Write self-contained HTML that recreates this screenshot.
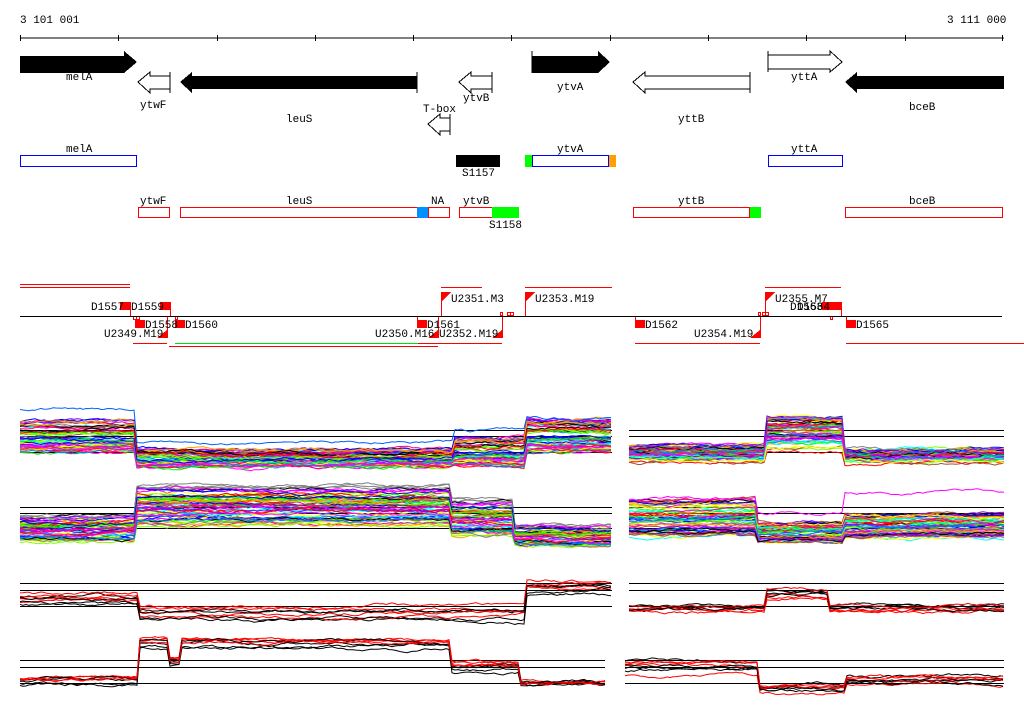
<!DOCTYPE html>
<html><head><meta charset="utf-8">
<style>
html,body{margin:0;padding:0;background:#fff;}
svg{display:block;}
text{font-family:"Liberation Mono","DejaVu Sans Mono",monospace;font-size:11px;fill:#000;}
</style></head>
<body>
<svg id="s" width="1024" height="714" viewBox="0 0 1024 714" xmlns="http://www.w3.org/2000/svg" shape-rendering="crispEdges">
<rect width="1024" height="714" fill="#fff"/>
<text x="20" y="23">3 101 001</text>
<text x="947" y="23">3 111 000</text>
<line x1="20" y1="38" x2="1004" y2="38" stroke="#000"/>
<g stroke="#000">
<line x1="20.5" y1="35" x2="20.5" y2="41"/><line x1="118.5" y1="35" x2="118.5" y2="41"/><line x1="217.5" y1="35" x2="217.5" y2="41"/><line x1="315.5" y1="35" x2="315.5" y2="41"/><line x1="413.5" y1="35" x2="413.5" y2="41"/><line x1="511.5" y1="35" x2="511.5" y2="41"/><line x1="610.5" y1="35" x2="610.5" y2="41"/><line x1="708.5" y1="35" x2="708.5" y2="41"/><line x1="806.5" y1="35" x2="806.5" y2="41"/><line x1="905.5" y1="35" x2="905.5" y2="41"/><line x1="1002.5" y1="35" x2="1002.5" y2="41"/>
</g>
<polygon points="20,56 124,56 124,51 137,62 124,73 20,73" fill="#000"/>
<text x="66" y="80">melA</text>
<polygon points="170,76 150,76 150,72 138,82 150,93 150,89 170,89" fill="#fff" stroke="#000"/>
<line x1="170" y1="72" x2="170" y2="93" stroke="#000"/>
<text x="140" y="108">ytwF</text>
<polygon points="417,76 192,76 192,72 180,82 192,93 192,89 417,89" fill="#000"/>
<line x1="417" y1="72" x2="417" y2="93" stroke="#000"/>
<text x="286" y="122">leuS</text>
<text x="423" y="112">T-box</text>
<polygon points="450,118 440,118 440,114 428,124 440,135 440,131 450,131" fill="#fff" stroke="#000"/>
<line x1="450" y1="114" x2="450" y2="135" stroke="#000"/>
<polygon points="492,76 471,76 471,72 459,82 471,93 471,89 492,89" fill="#fff" stroke="#000"/>
<line x1="492" y1="72" x2="492" y2="93" stroke="#000"/>
<text x="463" y="101">ytvB</text>
<polygon points="532,56 598,56 598,51 610,62 598,73 532,73" fill="#000"/>
<line x1="532" y1="51" x2="532" y2="73" stroke="#000"/>
<text x="557" y="90">ytvA</text>
<polygon points="750,76 645,76 645,72 633,82 645,93 645,89 750,89" fill="#fff" stroke="#000"/>
<line x1="750" y1="72" x2="750" y2="93" stroke="#000"/>
<text x="678" y="122">yttB</text>
<polygon points="768,55 830,55 830,51 842,62 830,72 830,69 768,69" fill="#fff" stroke="#000"/>
<line x1="768" y1="51" x2="768" y2="72" stroke="#000"/>
<text x="791" y="80">yttA</text>
<polygon points="1004,76 857,76 857,72 845,82 857,93 857,89 1004,89" fill="#000"/>
<text x="909" y="110">bceB</text>
<text x="66" y="152">melA</text>
<rect x="20.5" y="155.5" width="116" height="11" fill="#fff" stroke="#0000ff"/>
<rect x="456" y="155" width="44" height="12" fill="#000"/>
<text x="462" y="176">S1157</text>
<text x="557" y="152">ytvA</text>
<rect x="525" y="155" width="7" height="12" fill="#00ff00"/>
<rect x="532.5" y="155.5" width="76" height="11" fill="#fff" stroke="#0000ff"/>
<rect x="609" y="155" width="7" height="12" fill="#ffa000"/>
<text x="791" y="152">yttA</text>
<rect x="768.5" y="155.5" width="74" height="11" fill="#fff" stroke="#0000ff"/>
<text x="140" y="204">ytwF</text>
<rect x="138.5" y="207.5" width="31" height="10" fill="#fff" stroke="#ff0000"/>
<text x="286" y="204">leuS</text>
<rect x="180.5" y="207.5" width="237" height="10" fill="#fff" stroke="#ff0000"/>
<rect x="417" y="207" width="11" height="11" fill="#0090ff"/>
<text x="431" y="204">NA</text>
<rect x="428.5" y="207.5" width="21" height="10" fill="#fff" stroke="#ff0000"/>
<text x="463" y="204">ytvB</text>
<rect x="459.5" y="207.5" width="33" height="10" fill="#fff" stroke="#ff0000"/>
<rect x="492" y="207" width="27" height="11" fill="#00ff00"/>
<text x="489" y="228">S1158</text>
<text x="678" y="204">yttB</text>
<rect x="633.5" y="207.5" width="116" height="10" fill="#fff" stroke="#ff0000"/>
<rect x="750" y="207" width="11" height="11" fill="#00ff00"/>
<text x="909" y="204">bceB</text>
<rect x="845.5" y="207.5" width="157" height="10" fill="#fff" stroke="#ff0000"/>
<g stroke="#ff0000" fill="none">
<line x1="20" y1="284.5" x2="130" y2="284.5"/><line x1="20" y1="287.5" x2="130" y2="287.5"/>
<line x1="441" y1="287.5" x2="482" y2="287.5"/><line x1="525" y1="287.5" x2="612" y2="287.5"/>
<line x1="765" y1="287.5" x2="841" y2="287.5"/>
<line x1="133" y1="343.5" x2="167" y2="343.5"/>
<line x1="169" y1="346.5" x2="438" y2="346.5"/>
<line x1="418" y1="343.5" x2="502" y2="343.5"/>
<line x1="635" y1="343.5" x2="760" y2="343.5"/>
<line x1="846" y1="343.5" x2="1024" y2="343.5"/>
<line x1="130.5" y1="302" x2="130.5" y2="316"/><line x1="170.5" y1="302" x2="170.5" y2="316"/>
<line x1="167.5" y1="316" x2="167.5" y2="338"/><line x1="438.5" y1="316" x2="438.5" y2="338"/>
<line x1="417.5" y1="316" x2="417.5" y2="328"/>
<line x1="441.5" y1="292" x2="441.5" y2="316"/><line x1="502.5" y1="316" x2="502.5" y2="338"/>
<line x1="525.5" y1="292" x2="525.5" y2="316"/><line x1="635.5" y1="316" x2="635.5" y2="328"/>
<line x1="760.5" y1="316" x2="760.5" y2="338"/><line x1="765.5" y1="292" x2="765.5" y2="316"/>
<line x1="846.5" y1="316" x2="846.5" y2="328"/><line x1="841.5" y1="302" x2="841.5" y2="316"/>
<rect x="133.5" y="316.5" width="3" height="3"/><rect x="136.5" y="316.5" width="3" height="3"/>
<rect x="175.5" y="316.5" width="2" height="3"/><rect x="500.5" y="312.5" width="2" height="3"/>
<rect x="507.5" y="312.5" width="3" height="3"/><rect x="510.5" y="312.5" width="3" height="3"/>
<rect x="758.5" y="312.5" width="2" height="3"/><rect x="762.5" y="312.5" width="3" height="3"/><rect x="765.5" y="312.5" width="3" height="3"/>
<rect x="830.5" y="316.5" width="2" height="3"/>
</g>
<line x1="20" y1="316.5" x2="1002" y2="316.5" stroke="#000"/>
<line x1="175" y1="343.5" x2="418" y2="343.5" stroke="#00e000"/>
<g fill="#ff0000">
<rect x="120" y="302" width="10" height="8"/><rect x="160" y="302" width="10" height="8"/>
<rect x="135" y="320" width="10" height="8"/><rect x="175" y="320" width="10" height="8"/>
<rect x="417" y="320" width="10" height="8"/><rect x="635" y="320" width="10" height="8"/>
<rect x="822" y="302" width="19" height="8"/><rect x="846" y="320" width="10" height="8"/>
<polygon points="167,330 167,338 157,338"/><polygon points="438,330 438,338 428,338"/>
<polygon points="502,330 502,338 492,338"/><polygon points="760,330 760,338 750,338"/>
<polygon points="441,292 451,292 441,302"/><polygon points="525,292 535,292 525,302"/>
<polygon points="765,292 775,292 765,302"/>
</g>
<text x="91" y="310">D1557</text><text x="131" y="310">D1559</text>
<text x="145" y="328">D1558</text><text x="104" y="337">U2349.M19</text>
<text x="185" y="328">D1560</text><text x="375" y="337">U2350.M16</text>
<text x="427" y="328">D1561</text><text x="439" y="337">U2352.M19</text>
<text x="451" y="302">U2351.M3</text><text x="535" y="302">U2353.M19</text>
<text x="645" y="328">D1562</text><text x="694" y="337">U2354.M19</text>
<text x="775" y="302">U2355.M7</text>
<text x="790" y="310">D1563</text><text x="797" y="310">D1564</text>
<text x="856" y="328">D1565</text>
<g stroke="#000">
<line x1="20" y1="430.5" x2="612" y2="430.5"/><line x1="20" y1="436.5" x2="612" y2="436.5"/><line x1="20" y1="452.5" x2="612" y2="452.5"/>
<line x1="629" y1="430.5" x2="1004" y2="430.5"/><line x1="629" y1="436.5" x2="1004" y2="436.5"/><line x1="629" y1="452.5" x2="1004" y2="452.5"/>
<line x1="20" y1="507.5" x2="612" y2="507.5"/><line x1="20" y1="513.5" x2="612" y2="513.5"/><line x1="20" y1="528.5" x2="612" y2="528.5"/>
<line x1="629" y1="507.5" x2="1004" y2="507.5"/><line x1="629" y1="513.5" x2="1004" y2="513.5"/><line x1="629" y1="528.5" x2="1004" y2="528.5"/>
<line x1="20" y1="583.5" x2="612" y2="583.5"/><line x1="20" y1="590.5" x2="612" y2="590.5"/><line x1="20" y1="606.5" x2="612" y2="606.5"/>
<line x1="629" y1="583.5" x2="1004" y2="583.5"/><line x1="629" y1="590.5" x2="1004" y2="590.5"/><line x1="629" y1="606.5" x2="1004" y2="606.5"/>
<line x1="20" y1="660.5" x2="605" y2="660.5"/><line x1="20" y1="667.5" x2="605" y2="667.5"/><line x1="20" y1="683.5" x2="605" y2="683.5"/>
<line x1="625" y1="660.5" x2="1004" y2="660.5"/><line x1="625" y1="667.5" x2="1004" y2="667.5"/><line x1="625" y1="683.5" x2="1004" y2="683.5"/>
</g>
<g id="g"></g>
</svg>
<script>
(function(){
var seed=12345;function r(){seed=(seed*1103515245+12345)%2147483648;return seed/2147483648;}
var NS="http://www.w3.org/2000/svg",G=document.getElementById("g");
var pal=["#ff0000","#00ff00","#0000ff","#ff00ff","#00ffff","#ffa000","#808080","#a0522d","#ffff00","#000000","#8000ff","#0080ff","#ff0080","#80ff00"];
function seg(x,segs){for(var i=0;i<segs.length;i++){if(x<segs[i][1])return segs[i];}return segs[segs.length-1];}
function draw(x0,x1,segs,n,cols,w,amp){
 amp=amp||2.2;
 for(var k=0;k<n;k++){
  var t=r(),c=cols[k%cols.length],pts=[],drift=0;
  for(var x=x0;x<=x1;x+=3){
   var s=seg(x,segs);drift+=(r()-0.5)*amp;drift*=0.93;
   var y=s[2]+t*(s[3]-s[2])+drift;pts.push(x+","+y.toFixed(1));
  }
  var p=document.createElementNS(NS,"polyline");p.setAttribute("points",pts.join(" "));
  p.setAttribute("fill","none");p.setAttribute("stroke",c);p.setAttribute("stroke-width",w||1);
  p.setAttribute("shape-rendering","auto");G.appendChild(p);
 }
}
draw(20,612,[[20,137,422,452],[137,455,450,467],[455,525,438,466],[525,612,420,452]],60,pal);
draw(20,612,[[20,137,408,410],[137,455,438,442],[455,525,428,432],[525,612,418,420]],1,["#0060ff"]);
draw(629,1004,[[629,765,446,463],[765,845,418,452],[845,1004,450,463]],55,pal);
draw(20,612,[[20,137,516,543],[137,450,486,528],[450,515,500,538],[515,612,526,547]],60,pal);
draw(629,1004,[[629,757,498,537],[757,845,522,543],[845,1004,513,538]],55,pal);
draw(629,1004,[[629,757,498,500],[757,845,512,514],[845,1004,492,495]],1,["#ff00ff"]);
var bk=["#000","#ff0000"];
draw(20,612,[[20,140,592,606],[140,525,604,622],[525,612,580,594]],8,bk);
draw(629,1004,[[629,765,604,612],[765,830,587,600],[830,1004,604,612]],8,bk);
draw(20,605,[[20,140,678,690],[140,170,640,655],[170,182,660,668],[182,450,640,655],[450,520,662,680],[520,605,681,688]],8,bk);
draw(625,1004,[[625,760,660,676],[760,845,685,694],[845,1004,676,686]],8,bk);
})();
</script>
</body></html>
